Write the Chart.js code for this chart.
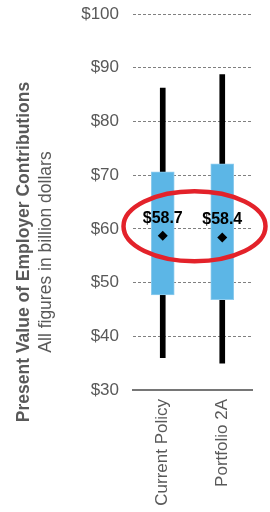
<!DOCTYPE html>
<html>
<head>
<meta charset="utf-8">
<script src="https://cdn.jsdelivr.net/npm/chart.js@4/dist/chart.umd.min.js"></script>
<style>
  html, body { margin: 0; padding: 0; background: #fff; }
  #wrap { width: 270px; height: 512px; position: relative; }
</style>
</head>
<body>
<div id="wrap"><canvas id="c" width="270" height="512"></canvas></div>
<script>
const categories = ['Current Policy', 'Portfolio 2A'];
const minValues = [36.0, 35.0];
const q1Values = [47.7, 46.8];
const q3Values = [70.6, 72.1];
const maxValues = [86.2, 88.7];
const meanValues = [58.7, 58.4];
const yTicks = [30, 40, 50, 60, 70, 80, 90, 100];
const titleLines = ['Present Value of Employer Contributions', 'All figures in billion dollars'];

const FONT = "'Liberation Sans', Arial, sans-serif";
const GRAY = '#595959';

const decorPlugin = {
  id: 'decor',
  afterDatasetsDraw(chart) {
    const ctx = chart.ctx;
    const xs = chart.scales.x, ys = chart.scales.y;
    ctx.save();
    ctx.font = 'bold 16px ' + FONT;
    ctx.fillStyle = '#000';
    ctx.textAlign = 'center';
    ctx.textBaseline = 'alphabetic';
    meanValues.forEach((v, i) => {
      const px = xs.getPixelForValue(i);
      const py = ys.getPixelForValue(v);
      ctx.fillText('$' + v.toFixed(1), px, py - 13);
    });
    const cx = xs.getPixelForValue(0.5) + 2;
    const cy = ys.getPixelForValue(60.5);
    ctx.beginPath();
    ctx.ellipse(cx, cy, 71, 35, 0, 0, Math.PI * 2);
    ctx.strokeStyle = '#e3222a';
    ctx.lineWidth = 4.5;
    ctx.stroke();
    ctx.restore();
  },
  afterDraw(chart) {
    const ctx = chart.ctx;
    ctx.save();
    ctx.fillStyle = GRAY;
    ctx.textAlign = 'center';
    ctx.textBaseline = 'middle';
    ctx.translate(24, 252);
    ctx.rotate(-Math.PI / 2);
    ctx.font = 'bold 17.5px ' + FONT;
    ctx.fillText(titleLines[0], 0, 0);
    ctx.font = '17.5px ' + FONT;
    ctx.fillText(titleLines[1], 0, 22);
    ctx.restore();
  }
};

new Chart(document.getElementById('c'), {
  type: 'bar',
  data: {
    labels: categories,
    datasets: [
      {
        type: 'line',
        label: 'Mean',
        data: meanValues,
        showLine: false,
        pointStyle: 'rectRot',
        pointRadius: 5,
        pointBackgroundColor: '#000',
        pointBorderColor: '#000',
        pointBorderWidth: 0,
        order: 0
      },
      {
        label: 'Interquartile',
        data: q1Values.map((v, i) => [v, q3Values[i]]),
        backgroundColor: '#5cb6e6',
        borderColor: '#8fccee',
        borderWidth: 1,
        borderSkipped: false,
        barThickness: 23,
        grouped: false,
        order: 1
      },
      {
        label: 'Range',
        data: minValues.map((v, i) => [v, maxValues[i]]),
        backgroundColor: '#000',
        borderWidth: 0,
        barThickness: 5,
        grouped: false,
        order: 2
      }
    ]
  },
  options: {
    responsive: false,
    animation: false,
    devicePixelRatio: 1,
    layout: { padding: { left: 0, right: 18, top: 14, bottom: 0 } },
    plugins: { legend: { display: false }, tooltip: { enabled: false } },
    scales: {
      x: {
        offset: true,
        grid: { display: false, drawTicks: false },
        border: { display: true, color: '#767676', width: 2 },
        ticks: {
          color: GRAY,
          font: { family: FONT, size: 17 },
          minRotation: 90,
          maxRotation: 90,
          padding: 9
        },
        afterFit(scale) { scale.height = 122; }
      },
      y: {
        min: 30,
        max: 100,
        afterBuildTicks(scale) { scale.ticks = yTicks.map(v => ({ value: v })); },
        grid: {
          color: (c) => c.tick && c.tick.value === 30 ? 'rgba(0,0,0,0)' : '#808080',
          lineWidth: 1,
          drawTicks: false
        },
        border: { display: false, dash: [3, 2] },
        ticks: {
          color: GRAY,
          font: { family: FONT, size: 17 },
          padding: 14,
          callback: (v) => '$' + v
        },
        afterFit(scale) {
          scale.width = 133;
          scale.paddingTop = 0;
          scale.paddingBottom = 0;
        }
      }
    }
  },
  plugins: [decorPlugin]
});
</script>
</body>
</html>
